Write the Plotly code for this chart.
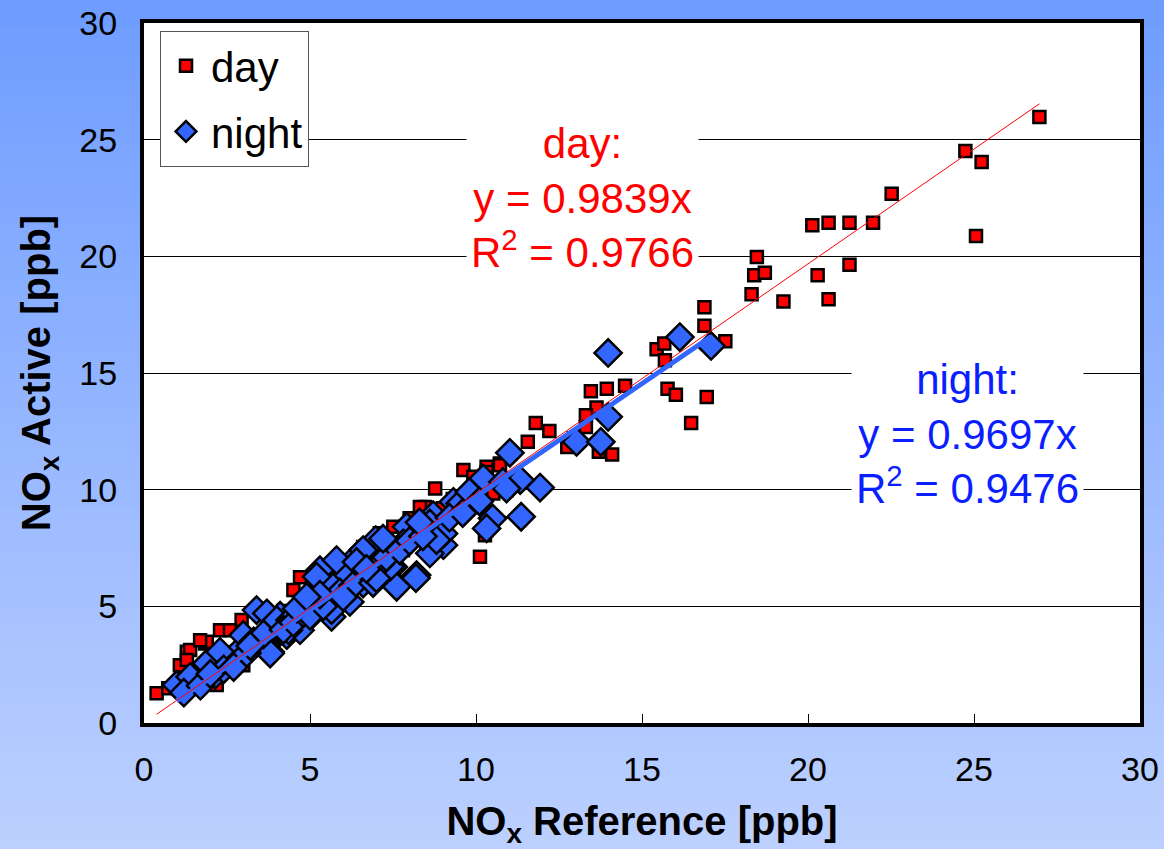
import plotly.graph_objects as go

# ---------------- data ----------------
day_x = [26.97, 24.74, 25.23, 25.06, 22.52, 20.13, 20.62, 21.25, 21.96, 20.29, 21.25, 20.62, 19.26,
         18.46, 18.38, 18.70, 18.30, 16.88, 16.88, 17.51, 15.44, 15.67, 15.69, 15.77, 16.02, 16.95,
         16.48, 13.46, 13.94, 14.49, 13.63, 13.31, 13.31, 11.80, 12.21, 11.56, 12.75, 14.10, 13.70,
         12.95, 10.32, 10.72, 8.77, 10.12, 9.62, 9.92, 10.32, 10.72, 8.46, 10.27, 10.92, 10.52, 8.00,
         7.10, 6.60, 7.51, 8.31, 9.52, 9.42, 10.32, 4.70, 4.50, 2.94, 2.99, 2.19, 1.29, 0.38, 0.73,
         1.39, 1.84, 1.08, 1.89, 2.29, 2.59, 1.69, 1.99, 1.29, 3.50, 4.00, 4.50, 5.00, 5.50, 6.00,
         6.50, 7.00, 7.50, 8.00, 3.20, 4.20, 5.20, 6.20, 5.80, 6.80, 7.80, 9.00, 9.30, 3.00, 2.50,
         1.60, 2.00]
day_y = [25.97, 24.51, 24.04, 20.87, 22.68, 21.33, 21.44, 21.44, 21.44, 19.19, 19.64, 18.16, 18.06,
         19.97, 19.19, 19.30, 18.38, 17.82, 17.03, 16.36, 16.02, 16.26, 15.55, 14.33, 14.07, 13.97,
         12.86, 14.22, 14.33, 14.45, 13.52, 13.19, 12.69, 12.86, 12.51, 12.05, 11.83, 11.51, 11.62,
         12.20, 10.98, 11.12, 10.05, 7.12, 10.84, 10.55, 10.76, 11.05, 9.26, 8.05, 9.98, 9.84, 8.78,
         8.13, 7.54, 8.41, 9.26, 8.91, 8.98, 8.27, 6.25, 5.70, 4.41, 2.48, 1.63, 3.05, 1.27, 1.49,
         3.13, 3.41, 2.48, 3.48, 3.98, 3.98, 3.55, 2.70, 2.70, 3.70, 4.10, 4.60, 5.20, 5.60, 6.10,
         6.60, 7.20, 7.60, 8.10, 3.60, 4.80, 5.80, 6.90, 5.50, 6.40, 7.40, 9.20, 9.60, 2.90, 2.20,
         1.90, 2.10]

night_x = [17.08, 16.14, 13.98, 13.98, 13.03, 13.76, 11.02, 11.93, 10.22, 10.81, 11.36, 10.50, 10.32,
           11.33, 10.92, 9.32, 8.71, 8.86, 9.02, 8.21, 7.26, 7.51, 6.98, 6.45, 6.71, 7.56, 6.20, 5.70,
           5.30, 5.70, 5.10, 6.10, 7.91, 8.61, 8.51, 7.81, 8.19, 3.70, 4.70, 4.10, 1.08, 1.54, 1.99,
           2.59, 2.89, 3.49, 2.14, 0.98, 1.39, 1.89, 2.29, 2.99, 3.39, 3.70, 4.00, 3.80, 4.30, 4.40,
           4.90, 5.50, 5.65, 7.61, 7.41, 6.60, 5.65, 4.70, 3.80, 4.35, 5.20, 5.80, 6.60, 9.02, 9.52,
           8.61, 8.81, 9.80, 10.10, 1.20, 1.70, 2.40, 2.70, 3.10, 3.30, 3.60, 4.20, 4.50, 4.80, 5.00,
           5.40, 5.90, 6.30, 6.80, 7.10, 7.30, 7.70, 8.00, 8.40, 6.00, 6.90, 5.30, 4.60, 7.00, 8.30,
           9.20, 9.60, 6.40, 7.20, 2.00, 3.20, 4.90, 6.70]
night_y = [16.16, 16.54, 15.86, 13.12, 12.05, 12.05, 11.58, 10.09, 10.48, 10.33, 8.84, 8.77, 8.34,
           10.41, 10.05, 9.48, 8.91, 8.05, 7.62, 6.34, 7.34, 6.69, 7.84, 7.19, 6.27, 5.98, 5.19, 5.84,
           6.55, 4.98, 5.27, 6.41, 8.41, 8.55, 8.12, 7.70, 6.21, 3.34, 4.20, 4.60, 1.63, 1.93, 2.48,
           2.70, 3.13, 3.55, 2.06, 1.63, 1.98, 2.55, 3.05, 3.77, 4.84, 4.70, 4.41, 3.05, 3.77, 4.41,
           4.41, 5.13, 4.55, 5.84, 6.69, 5.98, 4.84, 3.98, 2.98, 3.98, 6.27, 6.98, 7.41, 8.12, 9.41,
           7.27, 7.84, 9.90, 9.50, 1.30, 1.60, 2.30, 2.40, 3.00, 3.50, 3.80, 4.00, 4.30, 4.70, 4.60,
           5.00, 5.60, 5.90, 6.50, 6.80, 7.10, 7.40, 7.80, 8.00, 5.40, 6.00, 5.50, 4.90, 6.20, 8.60,
           8.80, 9.00, 6.90, 7.90, 2.10, 3.30, 5.40, 6.60]

day_slope = 0.9839
day_r2 = 0.9766
night_slope = 0.9697
night_r2 = 0.9476

x_ticks = [0, 5, 10, 15, 20, 25, 30]
y_ticks = [0, 5, 10, 15, 20, 25, 30]

# ---------------- styling ----------------
W, H = 1164, 849
ML, MR, MT, MB = 144, 24, 23, 126
RED = "#FF0000"
BLUE = "#3366FF"
TXT_BLUE = "#0A1EFF"
FONT = "Liberation Sans, Arial, sans-serif"
NARROW = "Liberation Sans Narrow, Arial Narrow, Liberation Sans, sans-serif"

fig = go.Figure()

fig.add_trace(go.Scatter(
    x=day_x, y=day_y, mode="markers", name="day", legendgroup="d",
    marker=dict(symbol="square", size=12, color=RED, line=dict(color="black", width=2.5)),
))
fig.add_trace(go.Scatter(
    x=night_x, y=night_y, mode="markers", name="night", legendgroup="n",
    marker=dict(symbol="diamond", size=21, color=BLUE, line=dict(color="black", width=2.5)),
))

nx = [min(night_x), max(night_x)]
fig.add_trace(go.Scatter(
    x=nx, y=[night_slope * v for v in nx], mode="lines", showlegend=False,
    line=dict(color=BLUE, width=5),
))
dx = [min(day_x), max(day_x)]
fig.add_trace(go.Scatter(
    x=dx, y=[day_slope * v for v in dx], mode="lines", showlegend=False,
    line=dict(color=RED, width=1),
))

# gradient background
shapes = []
N = 60
top = (110, 156, 255)
bot = (188, 208, 255)
y_top = (H - MB) / (H - MT - MB)          # paper y of figure top
y_bot = -(MB) / (H - MT - MB)              # paper y of figure bottom
for i in range(N):
    t = i / (N - 1)
    c = tuple(round(top[k] + (bot[k] - top[k]) * t) for k in range(3))
    y1 = y_top - (y_top - y_bot) * i / N + 0.002
    y0 = y_top - (y_top - y_bot) * (i + 1) / N - 0.002
    shapes.append(dict(type="rect", xref="paper", yref="paper", x0=-0.2, x1=1.1, y0=y0, y1=y1,
                       fillcolor="rgb(%d,%d,%d)" % c, line=dict(width=0), layer="below"))
shapes.append(dict(type="rect", xref="paper", yref="paper", x0=0, x1=1, y0=0, y1=1,
                   fillcolor="white", line=dict(width=0), layer="below"))
fig.update_layout(shapes=shapes)

fig.add_annotation(
    xref="x", yref="y", x=13.2, y=22.5,
    text="day:<br>y = %.4fx<br>R<sup>2</sup> = %.4f" % (day_slope, day_r2),
    showarrow=False, font=dict(family=FONT, size=42, color=RED),
    bgcolor="white", align="center", borderpad=4,
)
fig.add_annotation(
    xref="x", yref="y", x=24.8, y=12.4,
    text="night:<br>y = %.4fx<br>R<sup>2</sup> = %.4f" % (night_slope, night_r2),
    showarrow=False, font=dict(family=FONT, size=42, color=TXT_BLUE),
    bgcolor="white", align="center", borderpad=4,
)

fig.update_layout(
    width=W, height=H,
    margin=dict(l=ML, r=MR, t=MT, b=MB, autoexpand=False),
    paper_bgcolor="#9DB8FF", plot_bgcolor="white",
    showlegend=True,
    legend=dict(x=(160 - ML) / (W - ML - MR), y=(H - MB - 31) / (H - MT - MB),
                xanchor="left", yanchor="top",
                bgcolor="white", bordercolor="#555555", borderwidth=1,
                font=dict(family=FONT, size=42, color="black"),
                tracegroupgap=8, itemsizing="trace", itemwidth=40),
    xaxis=dict(range=[0, 30], tickvals=x_ticks, ticktext=[str(v) for v in x_ticks],
               showgrid=False, zeroline=False,
               ticks="inside", ticklen=9, tickwidth=1, tickcolor="black",
               showline=True, linewidth=4, linecolor="black", mirror=True,
               tickfont=dict(family=NARROW, size=34, color="black"),
               ticklabelstandoff=13,
               title=dict(text="<b>NO<sub>x</sub> Reference [ppb]</b>", standoff=24,
                          font=dict(family=FONT, size=40, color="black"))),
    yaxis=dict(range=[0, 30], tickvals=y_ticks, ticktext=[str(v) for v in y_ticks],
               showgrid=True, gridcolor="black", gridwidth=1, zeroline=False,
               ticks="",
               showline=True, linewidth=4, linecolor="black", mirror=True,
               tickfont=dict(family=NARROW, size=34, color="black"),
               ticklabelstandoff=16,
               title=dict(text="<b>NO<sub>x</sub> Active [ppb]</b>", standoff=17,
                          font=dict(family=FONT, size=40, color="black"))),
)

fig.write_html("out.html")
